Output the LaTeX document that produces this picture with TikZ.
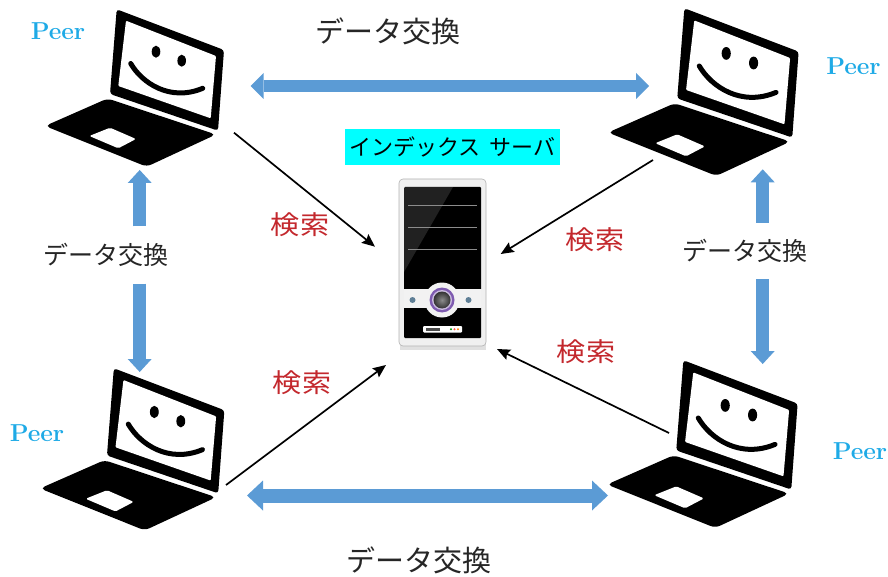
\documentclass[tikz,border=0pt]{standalone}
\usepackage{fontspec}
\newfontfamily\jpfont{Noto Sans CJK JP}
\usetikzlibrary{arrows.meta}

\definecolor{xferblue}{HTML}{5B9BD5}
\definecolor{peerblue}{HTML}{1EAAE6}
\definecolor{searchred}{HTML}{C3282D}
\definecolor{idxcyan}{HTML}{00FFFF}
\definecolor{ringpurple}{HTML}{7E5BB0}
\definecolor{knobblue}{HTML}{5F7F96}

\newcommand{\widetext}[1]{\scalebox{1.12}[1]{#1}}

\tikzset{
  % laptop with a smiling screen, origin at the left corner of the base box
  laptop/.pic={
    \fill[black, rounded corners=3pt] (71.7,-0.7) -- (179,40) -- (173,120.7) -- (65,84) -- cycle;
    \fill[white, rounded corners=1pt] (81,10.7) -- (171,46) -- (165.7,108.3) -- (73.3,76) -- cycle;
    \fill[black] (111,41.7) ellipse [x radius=4.3, y radius=6];
    \fill[black] (136.7,50.7) ellipse [x radius=4.3, y radius=6];
    \draw[black, line width=5pt, line cap=round] (85.7,53.5) .. controls (97,73) and (125,92) .. (157.7,78.3);
    \fill[black, rounded corners=5pt] (0,116) -- (62.5,88.5) -- (171,124.5) -- (101.7,156.7) -- cycle;
    \fill[white, rounded corners=1.5pt] (44.3,126) -- (65,117.7) -- (91,129) -- (73.3,138.3) -- cycle;
  },
  peer/.style={text=peerblue, font=\fontsize{24.5}{25}\selectfont\bfseries, inner sep=0pt},
  search/.style={text=searchred, font=\jpfont\fontsize{26}{26}\selectfont, inner sep=0pt},
  xlabel/.style={text=black!85, font=\jpfont\fontsize{#1}{#1}\selectfont, inner sep=0pt},
  xferboth/.style n args={3}{draw=xferblue, line width=#1,
    arrows={Triangle[width=#2, length=#3, line width=0pt, fill=xferblue]-Triangle[width=#2, length=#3, line width=0pt, fill=xferblue]}},
  xferone/.style n args={3}{draw=xferblue, line width=#1,
    arrows={-Triangle[width=#2, length=#3, line width=0pt, fill=xferblue]}},
  query/.style={draw=black, line width=1.7pt, -{Stealth[length=13pt, width=11pt, inset=2pt]}},
}

\begin{document}
\begin{tikzpicture}[x=1pt, y=-1pt]
\useasboundingbox (0,0) rectangle (888,577);

% ---- peers ----
\pic at (45,10) {laptop};
\pic[scale=1.065] at (608,9) {laptop};
\pic[scale=1.03] at (40,369) {laptop};
\pic[scale=1.065] at (607,361) {laptop};

\node[peer] (peerTL) at (58,31) {Peer};
\node[peer] (peerTR) at (853.5,66) {Peer};
\node[peer] (peerBL) at (37,433) {Peer};
\node[peer] (peerBR) at (860,451) {Peer};

% ---- index server ----
\fill[black!12] (400,343) rectangle (486,350);
\fill[black!6, draw=black!30, line width=0.6pt, rounded corners=4pt] (399,179) rectangle (486,346);
\fill[black, rounded corners=1pt] (404,187) rectangle (481,290);
\fill[white, opacity=0.13] (404,187) -- (453,187) -- (404,272) -- cycle;
\foreach \yy in {206,228,250}
  \draw[black!45, line width=1pt] (408,\yy) -- (477,\yy);
\fill[black, rounded corners=1pt] (404,307) rectangle (481,338);
\fill[black!5] (404,289) rectangle (481,308);
\fill[black!5] (442,300) circle [radius=17.5];
\fill[ringpurple] (442,300) circle [radius=12.5];
\fill[ringpurple!40!white] (442,300) circle [radius=10];
\shade[inner color=black!45, outer color=black!80] (442,300) circle [radius=8.5];
\fill[knobblue] (412.5,300) circle [radius=3];
\fill[knobblue] (468.5,300) circle [radius=3];
\fill[white, rounded corners=1pt] (423,326) rectangle (462,332.5);
\fill[black!70] (426,328) rectangle (440,330.5);
\fill[green!60!black] (451,329.2) circle [radius=1.1];
\fill[red!70] (454.5,329.2) circle [radius=1.1];
\fill[orange] (458,329.2) circle [radius=1.1];

\node[fill=idxcyan, minimum width=215pt, minimum height=36pt, inner sep=0pt,
      font=\jpfont\fontsize{22}{22}\selectfont] (idx) at (452.5,147)
  {インデックス\hspace{0.4em}サーバ};

% ---- end points of the connectors ----
\coordinate (tlE) at (250.7,86);   \coordinate (trW) at (649,86);
\coordinate (blE) at (247,495.5);  \coordinate (brW) at (608,495.5);
\coordinate (tlS) at (139.7,170);  \coordinate (blN) at (139.7,372);
\coordinate (trS) at (762.7,169.3);\coordinate (brN) at (762.7,364);
\coordinate (tlQ) at (234,132.7);  \coordinate (srvA) at (375,246.7);
\coordinate (trQ) at (653,160);    \coordinate (srvB) at (500.7,254);
\coordinate (blQ) at (226,485);    \coordinate (srvC) at (386,365);
\coordinate (brQ) at (669,433);    \coordinate (srvD) at (497,349);

% ---- data exchange between peers ----
\node[xlabel=29] (xTop) at (388,31) {データ交換};
\node[xlabel=29] (xBot) at (419,560) {データ交換};
\draw[xferboth={11.5pt}{26pt}{13pt}] (tlE) -- (trW);
\draw[xferboth={14pt}{30pt}{16pt}] (blE) -- (brW);

\node[xlabel=25, fill=white, minimum height=57pt, inner xsep=1pt] (xLeft) at (106,255) {データ交換};
\node[xlabel=25, fill=white, minimum height=56pt, inner xsep=1pt] (xRight) at (745,251) {データ交換};
\draw[xferone={12.7pt}{24pt}{13pt}] (xLeft.north -| tlS) -- (tlS);
\draw[xferone={12.7pt}{24pt}{13pt}] (xLeft.south -| blN) -- (blN);
\draw[xferone={12.7pt}{24pt}{13pt}] (xRight.north -| trS) -- (trS);
\draw[xferone={12.7pt}{24pt}{13pt}] (xRight.south -| brN) -- (brN);

% ---- search requests to the index server ----
\draw[query] (tlQ) -- (srvA);
\draw[query] (trQ) -- (srvB);
\draw[query] (blQ) -- (srvC);
\draw[query] (brQ) -- (srvD);

\node[search] (sTL) at (300,225) {\widetext{検索}};
\node[search] (sTR) at (595,240) {\widetext{検索}};
\node[search] (sBL) at (302,383) {\widetext{検索}};
\node[search] (sBR) at (586,352) {\widetext{検索}};
\end{tikzpicture}
\end{document}
